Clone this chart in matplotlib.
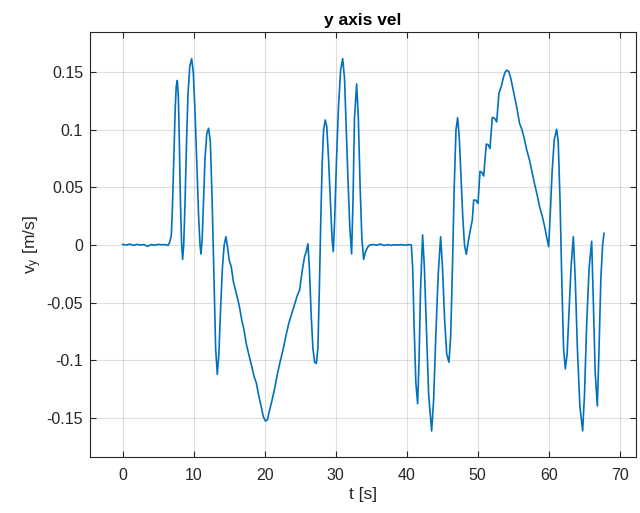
import numpy as np
import matplotlib.pyplot as plt
from matplotlib.ticker import FuncFormatter

# velocity samples
t = [0, 0.5, 1.0, 1.5, 2.0, 2.5, 3.0, 3.5, 4.0, 4.5, 5.0, 5.5, 6.0, 6.4,
     6.6, 6.85, 7.0, 7.2, 7.4, 7.55, 7.7, 7.85, 8.0, 8.15, 8.3, 8.45,
     8.6, 8.8, 9.0, 9.2, 9.45, 9.72, 9.95, 10.2, 10.45, 10.7, 10.9, 11.03,
     11.2, 11.4, 11.6, 11.85, 12.11, 12.35, 12.6, 12.85, 13.1, 13.33,
     13.55, 13.8, 14.05, 14.3, 14.55, 14.8, 15.0, 15.3, 15.6, 16.0, 16.4,
     16.8, 17.1, 17.4, 17.8, 18.2, 18.5, 18.83, 19.2, 19.5, 19.8, 20.1, 20.4,
     20.6, 21.0, 21.4, 21.8, 22.2, 22.58, 23.0, 23.4, 23.8, 24.2, 24.6, 24.93,
     25.3, 25.63, 25.85, 26.1,
     26.3, 26.55, 26.8, 27.05, 27.28, 27.5, 27.7, 27.9, 28.1, 28.3, 28.54,
     28.75, 29.0, 29.25, 29.5, 29.67, 29.85, 30.1, 30.4, 30.7, 30.99, 31.25,
     31.5, 31.75, 32.0, 32.25, 32.45, 32.65, 32.96, 33.2, 33.45, 33.7, 33.94,
     34.2, 34.5, 34.8, 35.3, 35.8, 36.3, 36.8, 37.3, 37.8, 38.3, 38.8, 39.3,
     39.8, 40.3, 40.66,
     40.85, 41.05, 41.3, 41.55, 41.75, 41.95, 42.25, 42.5, 42.8, 43.1, 43.52,
     43.8, 44.1, 44.45, 44.79, 45.05, 45.35, 45.65, 45.96, 46.2, 46.45, 46.7,
     46.95, 47.18, 47.4, 47.65, 47.9, 48.15, 48.4, 48.7, 48.97, 49.25, 49.44,
     49.75, 50.05, 50.33, 50.6, 50.85, 51.22, 51.5, 51.73, 52.07, 52.4, 52.68,
     53.0, 53.33, 53.6, 53.85, 54.1, 54.4, 54.7, 54.97, 55.25, 55.5, 55.9,
     56.2, 56.48, 56.9, 57.3, 57.6, 58.0, 58.4, 58.73, 59.1, 59.44, 59.75,
     60.0, 60.25, 60.5, 60.8, 61.13, 61.35, 61.6, 61.85, 62.1, 62.35, 62.6,
     62.85, 63.15, 63.48, 63.75, 64.05, 64.4, 64.79, 65.05, 65.35, 65.7,
     66.06, 66.3, 66.55, 66.86, 67.1, 67.35, 67.6, 67.8]

vy = [0.0005, 0.0, 0.0008, -0.0003, 0.0006, 0.0, 0.0004, -0.0012, 0.0003,
      -0.0002, 0.0005, 0.0002, 0.0003, -0.0004,
      0.002, 0.008, 0.03, 0.075, 0.118, 0.138, 0.143, 0.128, 0.085, 0.035,
      0.002, -0.0125,
      0.0, 0.04, 0.09, 0.13, 0.155, 0.162, 0.15, 0.115, 0.07, 0.025, 0.0,
      -0.0078,
      0.005, 0.04, 0.075, 0.097, 0.1015, 0.09, 0.04, -0.025, -0.09, -0.1125,
      -0.095, -0.055, -0.02, 0.0, 0.0072, -0.003, -0.013, -0.019, -0.032,
      -0.042, -0.052, -0.066, -0.074, -0.0855, -0.096, -0.106, -0.114, -0.120,
      -0.132, -0.140, -0.149, -0.153, -0.152,
      -0.146, -0.136, -0.125, -0.112, -0.101, -0.0913, -0.079, -0.068, -0.060,
      -0.052, -0.044, -0.039, -0.022, -0.010, -0.006, 0.001,
      -0.02, -0.06, -0.09, -0.102, -0.103, -0.09, -0.04, 0.02, 0.07, 0.1,
      0.1087, 0.103, 0.075, 0.04, 0.005, -0.0058, 0.02, 0.07, 0.12, 0.152,
      0.162, 0.145, 0.10, 0.055, 0.015, -0.0078, 0.04, 0.11, 0.140, 0.11,
      0.05, 0.005, -0.0125, -0.006, -0.002, 0.0, 0.0004, -0.0002, 0.0008,
      -0.0004, 0.0003, -0.0003, 0.0002, 0.0, 0.0003, -0.0002, 0.0003, 0.0,
      -0.02, -0.07, -0.12, -0.138, -0.10, -0.04, 0.0087, -0.02, -0.075, -0.13,
      -0.1617, -0.135, -0.08, -0.025, 0.0072, -0.02, -0.065, -0.095, -0.102,
      -0.08, -0.02, 0.05, 0.1, 0.1107, 0.095, 0.06, 0.025, 0.0, -0.0081,
      0.004, 0.013, 0.0217, 0.039, 0.039, 0.036, 0.064, 0.063, 0.060, 0.0878,
      0.087, 0.0838, 0.111, 0.110, 0.107, 0.132, 0.1377, 0.145, 0.150, 0.152,
      0.1507, 0.144, 0.136, 0.1275, 0.12, 0.1058, 0.101, 0.0948, 0.083,
      0.0739, 0.065, 0.0536, 0.043, 0.0333, 0.025, 0.0159, 0.006, -0.0014,
      0.03, 0.065, 0.092, 0.1006, 0.09, 0.04, -0.03, -0.09, -0.1078, -0.095,
      -0.06, -0.02, 0.0072, -0.03, -0.09, -0.14, -0.1617, -0.13, -0.07, -0.02,
      0.0032, -0.05, -0.11, -0.140, -0.09, -0.03, 0.0, 0.0101]

x_ticks = [0, 10, 20, 30, 40, 50, 60, 70]
y_ticks = [-0.15, -0.1, -0.05, 0, 0.05, 0.1, 0.15]

plt.rcParams['font.family'] = ['Liberation Sans', 'DejaVu Sans']
plt.rcParams['mathtext.fontset'] = 'custom'
plt.rcParams['mathtext.rm'] = 'Liberation Sans'
plt.rcParams['mathtext.it'] = 'Liberation Sans'

dark = '#262626'
fig = plt.figure(figsize=(6.4, 5.13), dpi=100)
ax = fig.add_axes([0.1406, 0.1092, 0.8531, 0.8285])

ax.plot(t, vy, color='#0072BD', linewidth=1.2)

ax.set_xlim(-4.6, 72.3)
ax.set_ylim(-0.1843, 0.1852)
ax.set_xticks(x_ticks)
ax.set_yticks(y_ticks)
ax.yaxis.set_major_formatter(FuncFormatter(lambda v, p: '%g' % v))

ax.grid(True, color=dark, alpha=0.15, linewidth=0.8)
ax.tick_params(direction='in', top=True, right=True, length=4,
               colors=dark, labelsize=11.5, labelcolor=dark)
ax.tick_params(axis='x', pad=8)
ax.tick_params(axis='y', pad=5)
for s in ax.spines.values():
    s.set_color(dark)
    s.set_linewidth(0.8)

ax.set_title('y axis vel', fontsize=12.5, fontweight='bold', color='black', pad=5)
ax.set_xlabel('t [s]', fontsize=12.5, color=dark, labelpad=3)
ax.set_ylabel(r'v$_\mathrm{y}$ [m/s]', fontsize=12.5, color=dark, labelpad=2)

fig.savefig('out.png', dpi=100)
